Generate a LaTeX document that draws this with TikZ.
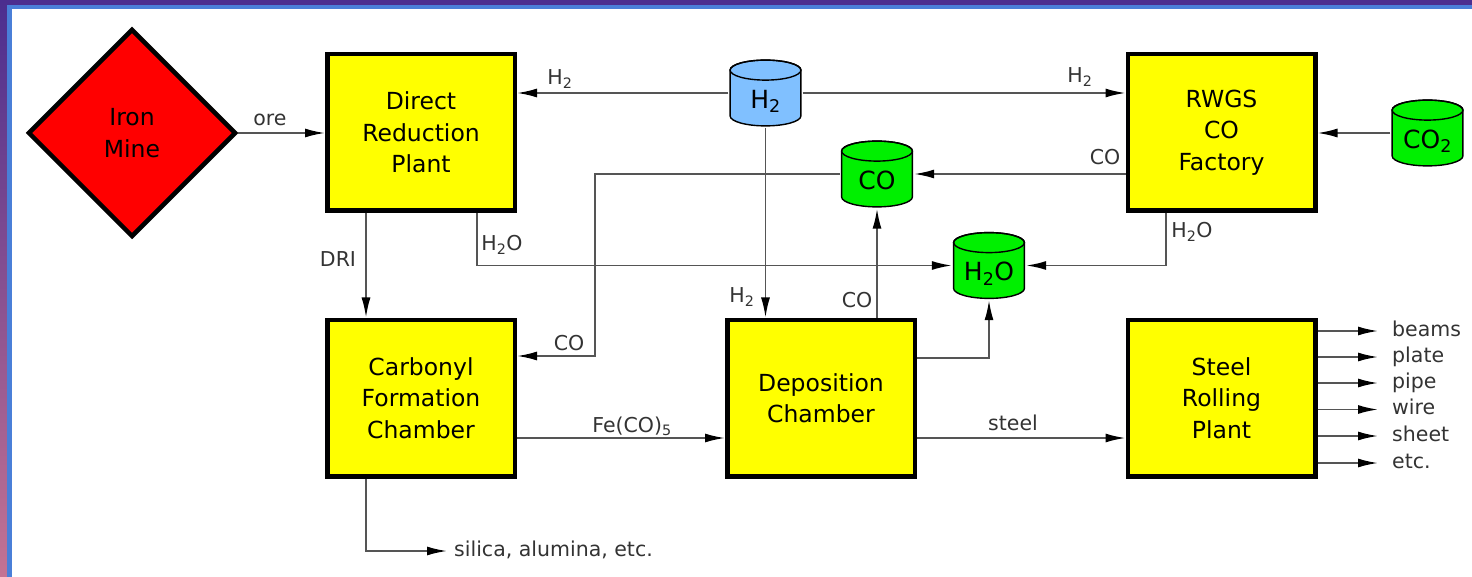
\documentclass[tikz,border=0pt]{standalone}
\usepackage{fontspec}
\setmainfont{DejaVu Sans}
\usetikzlibrary{shapes.geometric,arrows.meta,calc}
\definecolor{bgpurple}{HTML}{4B2E8F}
\definecolor{bgpink}{HTML}{C47393}
\definecolor{bgblue}{HTML}{4A7FD8}
\definecolor{boxyellow}{HTML}{FFFF00}
\definecolor{minered}{HTML}{FF0000}
\definecolor{tankgreen}{HTML}{00F000}
\definecolor{tankblue}{HTML}{80C0FF}
\definecolor{linegray}{HTML}{555555}
\definecolor{labgray}{HTML}{333333}
\newcommand\bigtxt{\fontsize{23.5pt}{31.5pt}\selectfont}
\newcommand\labtxt{\fontsize{20.5pt}{24pt}\selectfont}
\newcommand\tanktxt{\fontsize{25pt}{30pt}\selectfont}
\newcommand\tankshape[1]{%
  \filldraw[fill=#1,draw=black,line width=1.4pt]
    let \p1=(path picture bounding box.north west),
        \p2=(path picture bounding box.south east),
        \n1={(\x2-\x1)/2-1.6pt} in
    (\x1+1.6pt,\y1-11.6pt) -- (\x1+1.6pt,\y2+11.6pt)
    arc[start angle=180,end angle=360,x radius=\n1,y radius=10pt]
    -- (\x2-1.6pt,\y1-11.6pt)
    arc[start angle=0,end angle=180,x radius=\n1,y radius=10pt] -- cycle;
  \draw[line width=1.4pt]
    let \p1=(path picture bounding box.north west),
        \p2=(path picture bounding box.south east),
        \n1={(\x2-\x1)/2-1.6pt} in
    ({(\x1+\x2)/2},\y1-11.6pt) ellipse[x radius=\n1,y radius=10pt];
}
\begin{document}
\begin{tikzpicture}[x=1pt,y=-1pt,
  box/.style={draw=black,line width=4.5pt,fill=boxyellow,minimum width=187.5pt,
    minimum height=156.5pt,inner sep=0pt,align=center,font=\bigtxt,text=black},
  mine/.style={diamond,aspect=1,draw=black,line width=4.5pt,fill=minered,
    minimum width=208pt,minimum height=208pt,inner sep=0pt,align=center,font=\bigtxt},
  tank/.style={rectangle,inner sep=0pt,minimum width=74pt,minimum height=69pt,
    font=\tanktxt,text height=32pt,text depth=1pt,path picture={\tankshape{#1}}},
  lab/.style={font=\labtxt,text=labgray,inner sep=0pt},
  outlab/.style={font=\labtxt,text=labgray,inner sep=0pt,anchor=west,text height=14pt,text depth=4pt},
  arr/.style={draw=linegray,line width=1.8pt,-{Latex[length=20pt,width=9pt,color=black]}}]
\useasboundingbox (0,0) rectangle (1472,577);
% background frame
\fill[bgpurple] (0,0) rectangle (1472,5);
\shade[top color=bgpurple,bottom color=bgpink] (0,0) rectangle (7,577);
\fill[bgblue] (7,5) rectangle (1472,9);
\fill[bgblue] (7,5) rectangle (12,577);
% nodes
\node[mine] (mine) at (132,133) {Iron\\Mine};
\node[box] (drp) at (421,132.5) {Direct\\Reduction\\Plant};
\node[box] (rwgs) at (1221.5,132.5) {RWGS\\CO\\Factory};
\node[box] (carb) at (421,398) {Carbonyl\\Formation\\Chamber};
\node[box] (dep) at (821,398) {Deposition\\Chamber};
\node[box] (steel) at (1221.5,398) {Steel\\Rolling\\Plant};
\node[tank=tankblue] (h2) at (765.5,93) {H\textsubscript{2}};
\node[tank=tankgreen] (co) at (877,174) {CO};
\node[tank=tankgreen] (h2o) at (989,265.5) {H\textsubscript{2}O};
\node[tank=tankgreen] (co2) at (1427.5,133) {CO\textsubscript{2}};
% bend points
\coordinate (cobend) at (595,356);
\coordinate (h2oa) at (477,265.5);
\coordinate (h2ob) at (1166,265.5);
% connectors
\draw[arr] (mine.east) -- (drp.west |- mine.east);
\draw[arr] (h2.west) -- (drp.east |- h2.west);
\draw[arr] (h2.east) -- (rwgs.west |- h2.east);
\draw[arr] (h2.south) -- (h2.south |- dep.north);
\draw[arr] (rwgs.west |- co.east) -- (co.east);
\draw[arr] (co.west) -| (cobend) -- (carb.east |- cobend);
\draw[arr] (co.south |- dep.north) -- (co.south);
\draw[arr] (drp.south -| h2oa) |- (h2o.west);
\draw[arr] (rwgs.south -| h2ob) |- (h2o.east);
\draw[arr] ([yshift=40pt]dep.east) -| (h2o.south);
\draw[arr] ([xshift=-55pt]drp.south) -- ([xshift=-55pt]carb.north);
\draw[arr] ([yshift=-40pt]carb.east) -- ([yshift=-40pt]dep.west);
\draw[arr] ([yshift=-40pt]dep.east) -- ([yshift=-40pt]steel.west);
\draw[arr] (co2.west) -- (rwgs.east |- co2.west);
% labels
\node[lab] (lore) at (270,120) {ore};
\node[lab] (lh2a) at (560,79) {H\textsubscript{2}};
\node[lab] (lh2b) at (1080,77) {H\textsubscript{2}};
\node[lab] (lcoa) at (1105,157) {CO};
\node[lab] (lh2oa) at (502,245) {H\textsubscript{2}O};
\node[lab] (lh2ob) at (1192,232) {H\textsubscript{2}O};
\node[lab] (ldri) at (338,259) {DRI};
\node[lab] (lh2c) at (742,297) {H\textsubscript{2}};
\node[lab] (lcob) at (857,300) {CO};
\node[lab] (lcoc) at (569,343) {CO};
\node[lab] (lfe) at (632,426) {Fe(CO)\textsubscript{5}};
\node[lab] (lsteel) at (1013,423) {steel};
% by-product
\node[outlab] (silica) at (454,551) {silica, alumina, etc.};
\draw[arr] ([xshift=-55pt]carb.south) |- ([xshift=-7pt]silica.west);
% products
\node[outlab] (o1) at (1392,331) {beams};
\node[outlab] (o2) at (1392,357) {plate};
\node[outlab] (o3) at (1392,383) {pipe};
\node[outlab] (o4) at (1392,409.5) {wire};
\node[outlab] (o5) at (1392,436) {sheet};
\node[outlab] (o6) at (1392,463) {etc.};
\foreach \o in {o1,o2,o3,o4,o5,o6}
  \draw[arr] (steel.east |- \o.west) -- ([xshift=-14pt]\o.west);
\end{tikzpicture}
\end{document}
